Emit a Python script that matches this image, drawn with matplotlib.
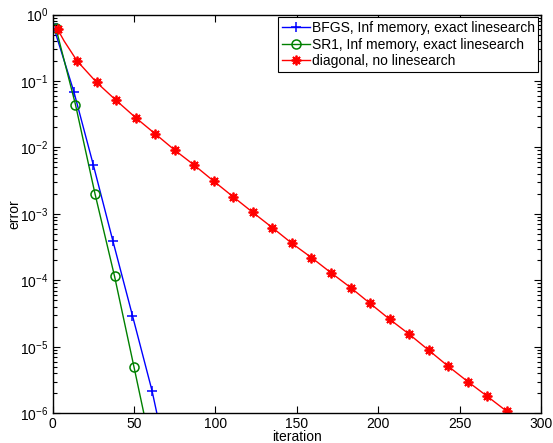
import matplotlib
matplotlib.use("Agg")
import matplotlib.pyplot as plt
from matplotlib.ticker import LogLocator, NullFormatter, NullLocator

plt.rcParams['font.family'] = ['Liberation Sans', 'DejaVu Sans']
plt.rcParams['mathtext.fontset'] = 'custom'
plt.rcParams['mathtext.rm'] = 'Liberation Sans'
plt.rcParams['mathtext.it'] = 'Liberation Sans'
plt.rcParams['mathtext.default'] = 'regular'

# values
bfgs_iter = [0, 13, 25, 37, 49, 61, 64]
bfgs_err = [0.72, 0.069, 5.4e-3, 3.9e-4, 2.95e-5, 2.2e-6, 1.0e-6]

sr1_iter = [2, 14, 26, 38, 50, 56]
sr1_err = [0.62, 0.044, 2.0e-3, 1.15e-4, 4.9e-6, 1.0e-6]

diag_iter = [3, 7, 15, 27, 39, 51, 63, 75, 87, 99, 111, 123, 135, 147, 159,
             171, 183, 195, 207, 219, 231, 243, 255, 267, 279]
diag_err = [0.60, 0.40, 0.20, 0.095, 0.051, 0.028, 0.016, 9.1e-3, 5.4e-3,
            3.1e-3, 1.8e-3, 1.05e-3, 6.2e-4, 3.6e-4, 2.2e-4, 1.3e-4, 7.8e-5,
            4.5e-5, 2.6e-5, 1.55e-5, 8.9e-6, 5.1e-6, 3.0e-6, 1.8e-6, 1.07e-6]

labels = ["BFGS, Inf memory, exact linesearch",
          "SR1, Inf memory, exact linesearch",
          "diagonal, no linesearch"]
xticks = [0, 50, 100, 150, 200, 250, 300]

fig = plt.figure(figsize=(5.53, 4.43), dpi=100)
ax = fig.add_axes([52.7 / 553, 29.7 / 443, (541 - 52.7) / 553, (413.3 - 14.5) / 443])

ax.plot(bfgs_iter, bfgs_err, color='#0000ff', lw=1.0, marker='+', ms=7.5, mew=1.1,
        markevery=list(range(len(bfgs_iter) - 1)), label=labels[0])
ax.plot(sr1_iter, sr1_err, color='#008000', lw=1.0, marker='o', ms=6.5, mew=1.1,
        mfc='none', markevery=list(range(len(sr1_iter) - 1)), label=labels[1])
diag_marks = [i for i in range(len(diag_iter)) if i != 1]
ax.plot(diag_iter, diag_err, color='#ff0000', lw=1.0, marker=(8, 2, 0), ms=7,
        mew=1.3, markevery=diag_marks, label=labels[2])

ax.set_yscale('log')
ax.set_xlim(0, 300)
ax.set_ylim(1e-6, 1)
ax.set_xticks(xticks)
ax.xaxis.set_minor_locator(NullLocator())
ax.yaxis.set_major_locator(LogLocator(base=10, numticks=10))
ax.yaxis.set_minor_locator(LogLocator(base=10, subs=range(2, 10), numticks=10))
ax.yaxis.set_minor_formatter(NullFormatter())

ax.tick_params(which='both', direction='in', top=True, right=True, labelsize=10,
               width=0.8, color='black')
ax.tick_params(which='major', length=5, pad=3)
ax.tick_params(which='minor', length=3)
for s in ax.spines.values():
    s.set_linewidth(1.0)

ax.set_xlabel('iteration', fontsize=10, labelpad=-1)
ax.set_ylabel('error', fontsize=10, labelpad=-1)

leg = ax.legend(loc='upper right', fontsize=10, borderaxespad=0.2, fancybox=False,
                edgecolor='black', framealpha=1, handlelength=2.0,
                handletextpad=0.15, borderpad=0.25, labelspacing=0.2)
leg.get_frame().set_linewidth(0.8)

fig.savefig('out.png', dpi=100)
